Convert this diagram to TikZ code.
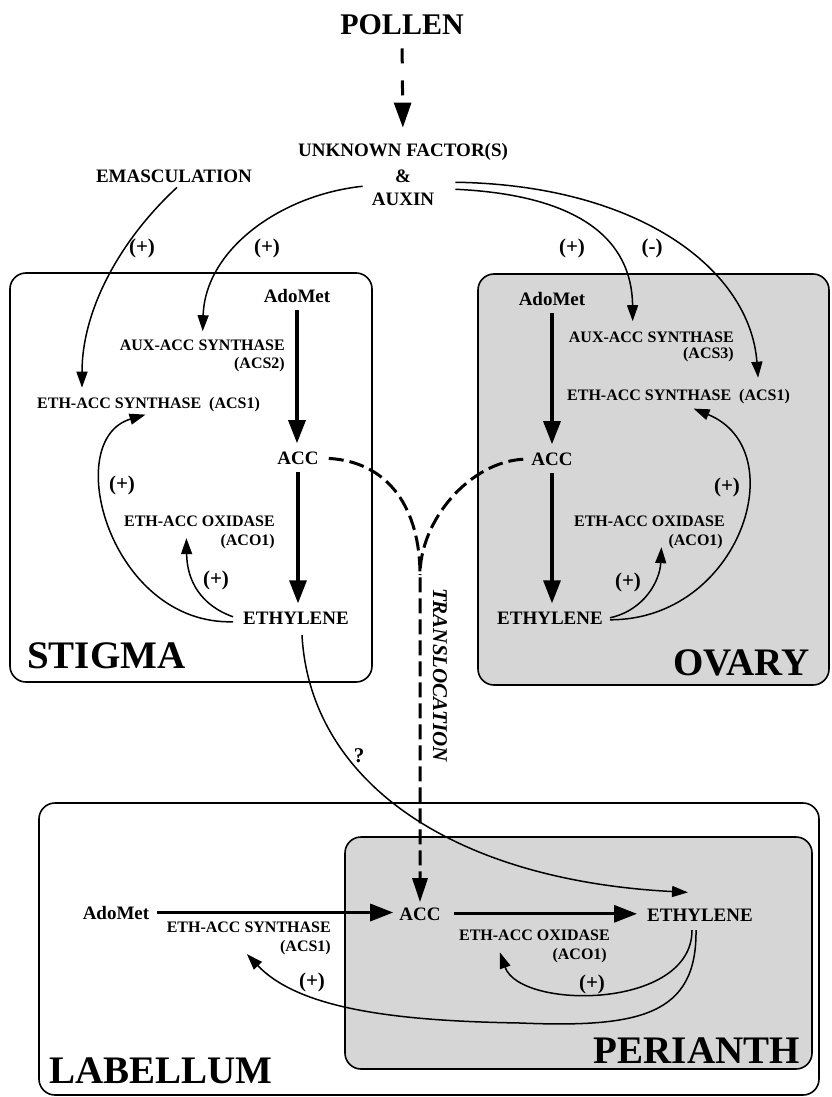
\documentclass[tikz,border=0pt]{standalone}
\usepackage{fontspec}
\setmainfont{Liberation Serif}
\usetikzlibrary{arrows.meta}
\definecolor{stip}{gray}{0.84}
\tikzset{
  txs/.style={font=\bfseries\fontsize{16}{18}\selectfont, inner sep=0pt},
  txm/.style={font=\bfseries\fontsize{19}{21}\selectfont, inner sep=0pt},
  txp/.style={font=\bfseries\fontsize{21}{23}\selectfont, inner sep=0pt},
  txl/.style={font=\bfseries\fontsize{39}{42}\selectfont, inner sep=0pt},
  box/.style={draw, line width=1.6pt, rounded corners=16pt},
  shadebox/.style={box, fill=stip},
  thickarrow/.style={line width=3.2pt, -{Triangle[length=23pt,width=17pt]}, shorten <=8pt, shorten >=8pt},
  thinarrow/.style={line width=1.5pt, -{Triangle[length=16pt,width=11pt]}},
  dsh/.style={line width=3pt, dash pattern=on 15pt off 6pt},
}
\begin{document}
\begin{tikzpicture}[x=1pt,y=-1pt]
\useasboundingbox (0,0) rectangle (831,1097);
% compartments
\draw[box] (10,273) rectangle (372,682);
\draw[shadebox] (478,274) rectangle (829,685);
\draw[box] (39,803) rectangle (819,1095);
\draw[shadebox] (345,837) rectangle (812,1069);

% top texts
\node[txm, font=\bfseries\fontsize{30}{32}\selectfont, anchor=base] (pollen) at (402,35) {POLLEN};
\node[txm, anchor=base] (unk) at (403,156) {UNKNOWN FACTOR(S)};
\node[txm, anchor=base] (amp) at (403,182) {\&};
\node[txm, anchor=base] (aux) at (403,205) {AUXIN};
\node[txm, anchor=base] (emas) at (174,182) {EMASCULATION};
\node[txp] (pl1) at (142,248) {(+)};
\node[txp] (pl2) at (267,248) {(+)};
\node[txp] (pl3) at (572,248) {(+)};
\node[txp] (mn1) at (652,248) {(-)};

% stigma
\node[txm, anchor=base] (sAdo) at (297,302) {AdoMet};
\node[txm, anchor=base] (sACC) at (298,464) {ACC};
\node[txm, anchor=base] (sEth) at (296,624) {ETHYLENE};
\node[txs, anchor=base east] (sAux) at (285,350) {AUX-ACC SYNTHASE};
\node[txs, anchor=base east] (sAuxb) at (285,368) {(ACS2)};
\node[txs, anchor=base west] (sEthS) at (37,408) {ETH-ACC SYNTHASE\hspace{0.5em}(ACS1)};
\node[txs, anchor=base east] (sOx) at (275,526) {ETH-ACC OXIDASE};
\node[txs, anchor=base east] (sOxb) at (275,545) {(ACO1)};
\node[txp] (sp1) at (122,485) {(+)};
\node[txp] (sp2) at (216,580) {(+)};
\node[txl, anchor=base west] (stigma) at (27,668) {STIGMA};

% ovary
\node[txm, anchor=base] (oAdo) at (552,305) {AdoMet};
\node[txm, anchor=base] (oACC) at (552,465) {ACC};
\node[txm, anchor=base] (oEth) at (550,624) {ETHYLENE};
\node[txs, anchor=base east] (oAux) at (734,342) {AUX-ACC SYNTHASE};
\node[txs, anchor=base east] (oAuxb) at (734,358) {(ACS3)};
\node[txs, anchor=base west] (oEthS) at (567,400) {ETH-ACC SYNTHASE\hspace{0.5em}(ACS1)};
\node[txs, anchor=base east] (oOx) at (725,526) {ETH-ACC OXIDASE};
\node[txs, anchor=base east] (oOxb) at (723,545) {(ACO1)};
\node[txp] (op1) at (727,487) {(+)};
\node[txp] (op2) at (628,582) {(+)};
\node[txl, anchor=base east] (ovary) at (810,675) {OVARY};

% labellum / perianth
\node[txm, anchor=base] (lAdo) at (116,919) {AdoMet};
\node[txm, anchor=base] (lACC) at (420,920) {ACC};
\node[txm, anchor=base] (lEth) at (700,921) {ETHYLENE};
\node[txs, anchor=base east] (lEthS) at (331,932) {ETH-ACC SYNTHASE};
\node[txs, anchor=base east] (lEthSb) at (331,951) {(ACS1)};
\node[txs, anchor=base east] (lOx) at (610,940) {ETH-ACC OXIDASE};
\node[txs, anchor=base east] (lOxb) at (607,959) {(ACO1)};
\node[txp] (lp1) at (312,982) {(+)};
\node[txp] (lp2) at (592,984) {(+)};
\node[txl, anchor=base west] (labellum) at (49,1083) {LABELLUM};
\node[txl, anchor=base east] (perianth) at (800,1063) {PERIANTH};

\node[txm, font=\bfseries\itshape\fontsize{21}{23}\selectfont, rotate=-90] (transl) at (440,675) {TRANSLOCATION};
\node[txm, font=\bfseries\fontsize{21}{23}\selectfont] (q) at (359,756) {?};

% pollen arrow
\draw[line width=3pt, dash pattern=on 15pt off 17pt, -{Triangle[length=25pt,width=17pt]}, shorten <=13pt, shorten >=15pt] (pollen.south) -- (unk.north);

% thick pathway arrows
\draw[thickarrow] (sAdo.south) -- (sAdo.south |- sACC.north);
\draw[thickarrow] (sACC.south) -- (sACC.south |- sEth.north);
\draw[thickarrow] (oAdo.south) -- (oAdo.south |- oACC.north);
\draw[thickarrow] (oACC.south) -- (oACC.south |- oEth.north);
\draw[thickarrow, shorten >=6pt] (lAdo.east) -- (lAdo.east -| lACC.west);
\draw[thickarrow, shorten <=13pt, shorten >=10pt] (lACC.east) -- (lACC.east -| lEth.west);

% translocation (dashed)
\draw[dsh, -{Triangle[length=24pt,width=15pt]}, shorten <=10pt, shorten >=5pt] (sACC.east) .. controls (390,462) and (420,510) .. (420,575) -- (lACC.north);
\draw[dsh, shorten <=8pt] (oACC.west) .. controls (470,462) and (420,520) .. (420,575);

% regulation arcs from top
\draw[thinarrow] ([shift={(3,5)}]emas.south) .. controls (120,240) and (82,310) .. ([shift={(45,-9)}]sEthS.north west);
\draw[thinarrow] ([shift={(-9,-6)}]aux.north west) .. controls (280,195) and (205,250) .. ([shift={(83,-8)}]sAux.north west);
\draw[thinarrow] ([shift={(21,-3)}]aux.north east) .. controls (580,195) and (632,240) .. ([shift={(64,-10)}]oAux.north west);
\draw[thinarrow] ([shift={(21,-10)}]aux.north east) .. controls (640,185) and (750,270) .. ([shift={(-32,-11)}]oEthS.north east);

% stigma feedback
\draw[thinarrow] ([shift={(-10,4)}]sEth.west) .. controls (110,625) and (60,440) .. ([shift={(-3,3)}]sEthS.south);
\draw[thinarrow] ([shift={(-10,-1)}]sEth.west) .. controls (200,605) and (187,580) .. ([shift={(-34,-3)}]sOxb.west);

% ovary feedback
\draw[thinarrow] ([shift={(7,2)}]oEth.east) .. controls (740,620) and (795,450) .. ([shift={(15,5)}]oEthS.south);
\draw[thinarrow] ([shift={(7,0)}]oEth.east) .. controls (645,610) and (660,580) .. ([shift={(-7,6)}]oOxb.west);

% stigma ethylene to perianth
\draw[thinarrow] ([shift={(6,11)}]sEth.south) .. controls (310,780) and (450,880) .. ([shift={(41,-16)}]lEth.north west);

% perianth feedback
\draw[thinarrow] ([shift={(-8,9)}]lEth.south) .. controls (692,1010) and (520,1010) .. ([shift={(41,12)}]lOx.south west);
\draw[thinarrow] ([shift={(-4,9)}]lEth.south) .. controls (697,1015) and (640,1028) .. (520,1023) .. controls (400,1021) and (300,1010) .. ([shift={(-33,7)}]lEthSb.west);
\end{tikzpicture}
\end{document}
